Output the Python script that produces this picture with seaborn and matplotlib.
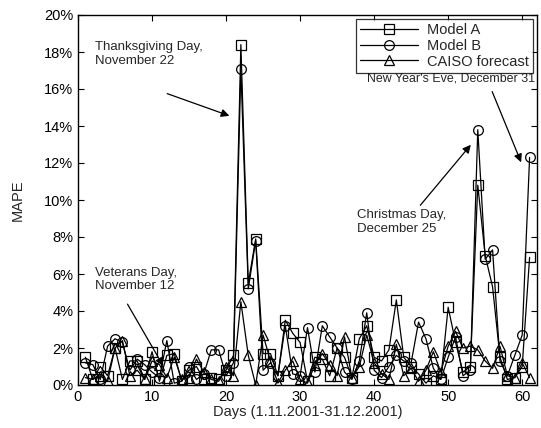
import matplotlib
matplotlib.use("Agg")
import matplotlib.pyplot as plt
import seaborn as sns
import numpy as np
from matplotlib.ticker import FuncFormatter

sns.set_style("ticks")
plt.rcParams['font.family'] = ['Liberation Sans', 'DejaVu Sans']

days = list(range(1, 62))

model_a = [1.5, 0.3, 1.0, 0.5, 2.0, 0.3, 1.3, 1.3, 0.3, 1.8,
           0.2, 1.6, 1.7, 0.2, 0.8, 1.0, 0.3, 0.4, 0.3, 0.8,
           1.6, 18.4, 5.5, 7.9, 1.7, 1.7, 0.5, 3.5, 2.8, 2.3,
           0.2, 1.5, 1.4, 0.5, 2.0, 1.5, 0.4, 2.5, 3.2, 1.5,
           1.3, 1.9, 4.6, 1.5, 1.0, 0.6, 0.1, 0.5, 0.3, 4.2,
           2.3, 0.7, 1.0, 10.8, 7.0, 5.3, 1.5, 0.3, 0.4, 1.0,
           6.9]

model_b = [1.2, 1.1, 0.3, 2.1, 2.5, 2.3, 0.8, 1.4, 1.1, 0.7,
           0.4, 2.4, 0.1, 0.2, 1.0, 0.3, 0.6, 1.9, 1.9, 0.5,
           1.2, 17.1, 5.2, 7.8, 0.8, 1.2, 0.5, 3.2, 0.6, 0.5,
           3.1, 0.7, 3.2, 2.6, 2.0, 0.7, 0.3, 1.3, 3.9, 0.8,
           0.4, 1.0, 1.6, 1.3, 1.2, 3.4, 2.5, 0.9, 0.3, 1.5,
           2.6, 0.5, 0.8, 13.8, 6.8, 7.3, 1.3, 0.5, 1.6, 2.7,
           12.3]

caiso = [0.4, 0.3, 0.5, 0.2, 2.0, 2.4, 0.5, 0.8, 0.3, 1.3,
         1.1, 0.4, 1.5, 0.3, 0.4, 1.4, 0.7, 0.3, 0.2, 1.0,
         0.5, 4.5, 1.6, 0.0, 2.7, 1.3, 0.1, 0.8, 1.3, 0.3,
         0.1, 1.1, 1.7, 1.1, 0.5, 2.6, 0.4, 1.0, 2.7, 1.2,
         0.6, 0.3, 2.2, 0.5, 0.9, 0.2, 0.8, 1.8, 0.7, 2.1,
         2.9, 2.0, 2.1, 1.9, 1.3, 0.9, 2.1, 0.5, 0.4, 1.2,
         0.4]

series = [("Model A", model_a, "s"),
          ("Model B", model_b, "o"),
          ("CAISO forecast", caiso, "^")]

fig = plt.figure(figsize=(5.41, 4.28), dpi=100)
ax = fig.add_axes([78 / 541, 1 - 385 / 428, (537 - 78) / 541, (385 - 15) / 428])

for name, vals, mk in series:
    sns.lineplot(x=days, y=vals, ax=ax, color="black", linewidth=0.9,
                 marker=mk, markersize=7, markerfacecolor="none",
                 markeredgecolor="black", markeredgewidth=0.9, label=name)

ax.set_xlim(0, 62)
ax.set_ylim(0, 20)
ax.set_xticks(range(0, 61, 10))
ax.set_yticks(range(0, 21, 2))
ax.yaxis.set_major_formatter(FuncFormatter(lambda v, p: f"{int(v)}%"))
ax.tick_params(direction="in", top=True, right=True, length=4, labelsize=10.5, colors="black")
for s in ax.spines.values():
    s.set_color("black")
    s.set_linewidth(1.0)

ax.set_xlabel("Days (1.11.2001-31.12.2001)", fontsize=10.5, labelpad=1)
ax.set_ylabel("MAPE", fontsize=10.5, labelpad=14)

leg = ax.legend(loc="upper right", fontsize=10.5, handlelength=4.0, frameon=True,
                fancybox=False, edgecolor="black", borderaxespad=0.25,
                labelspacing=0.12, borderpad=0.3, handletextpad=0.6)
leg.get_frame().set_linewidth(0.9)

arrow = dict(arrowstyle="-|>", color="black", lw=0.9, mutation_scale=12)
fs = 9.5
ax.text(2.3, 18.6, "Thanksgiving Day,\nNovember 22", fontsize=fs, va="top", ha="left", linespacing=1.2)
ax.annotate("", xy=(20.8, 14.5), xytext=(11.7, 15.8), arrowprops=arrow)

ax.text(2.3, 6.4, "Veterans Day,\nNovember 12", fontsize=fs, va="top", ha="left", linespacing=1.2)
ax.annotate("", xy=(11.7, 0.9), xytext=(6.5, 4.5), arrowprops=arrow)

ax.text(37.7, 9.5, "Christmas Day,\nDecember 25", fontsize=fs, va="top", ha="left", linespacing=1.2)
ax.annotate("", xy=(53.3, 13.1), xytext=(46.0, 9.6), arrowprops=arrow)

ax.text(39.0, 16.9, "New Year's Eve, December 31", fontsize=8.9, va="top", ha="left")
ax.annotate("", xy=(60.0, 11.9), xytext=(55.8, 16.0), arrowprops=arrow)

fig.savefig("out.png", dpi=100, facecolor="white")
